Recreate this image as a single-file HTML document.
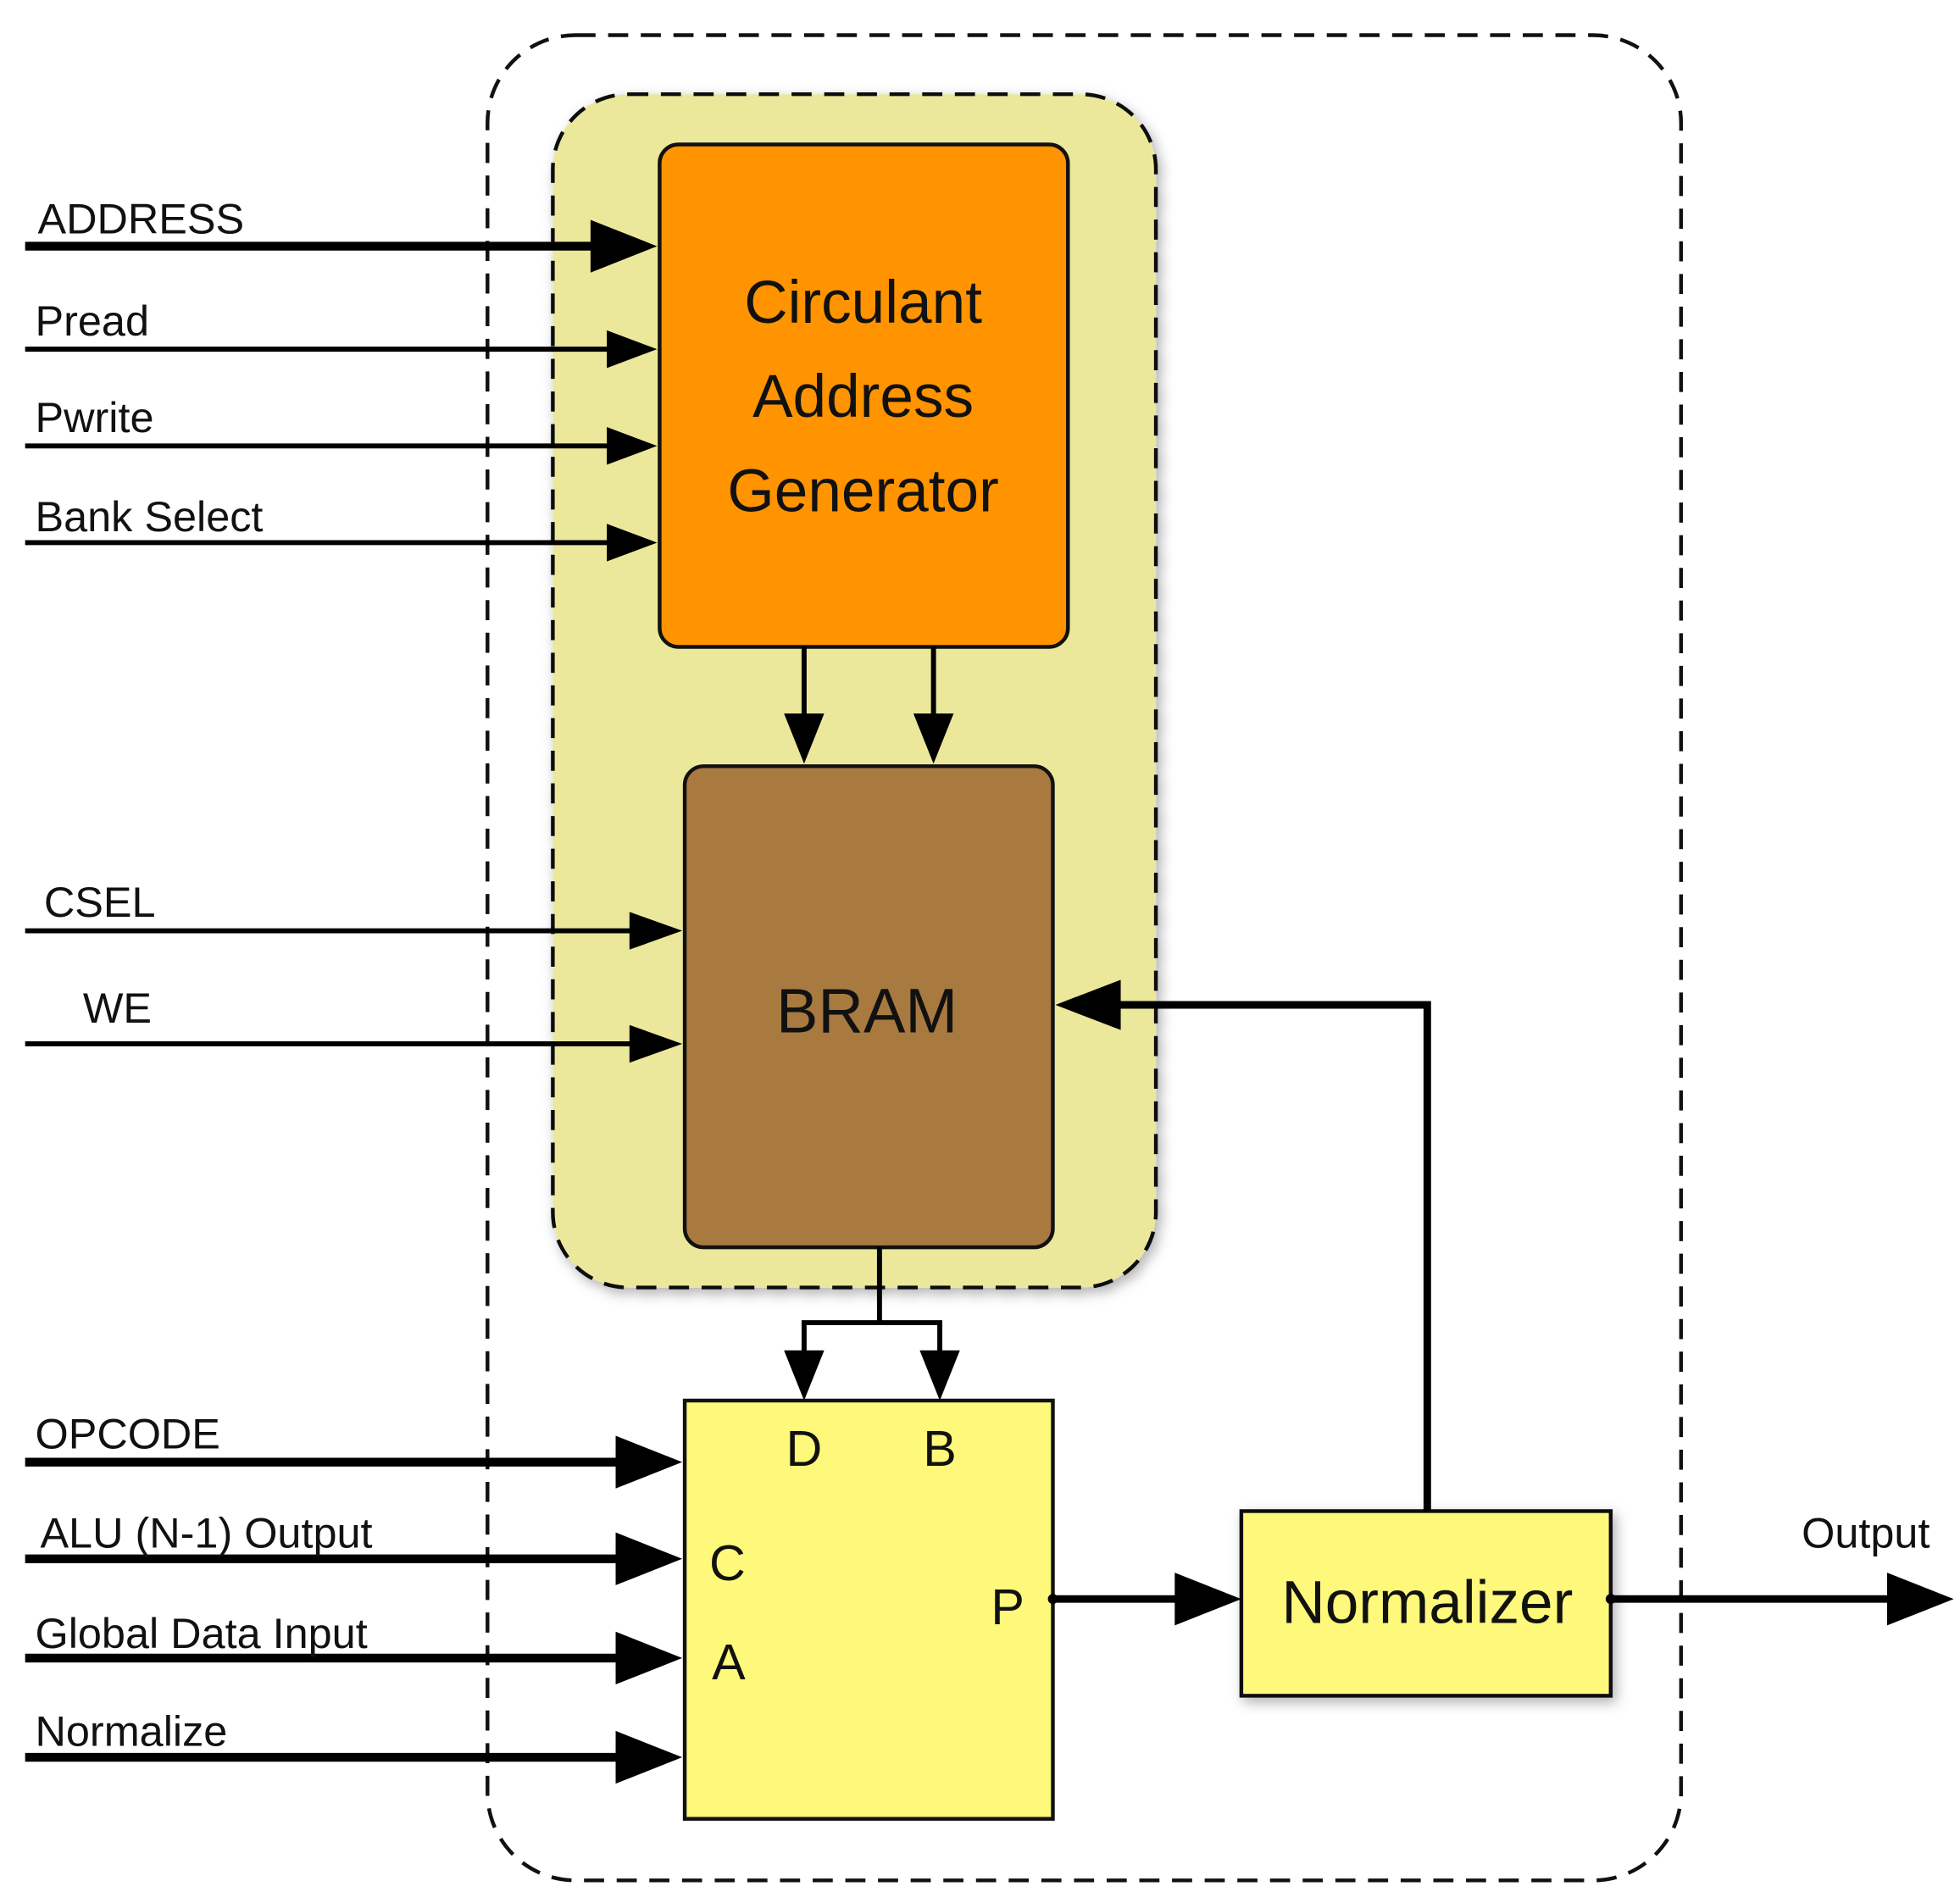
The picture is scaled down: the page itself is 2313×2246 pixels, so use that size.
<!DOCTYPE html>
<html><head><meta charset="utf-8"><style>
html,body{margin:0;padding:0;background:#fff;}
svg{display:block;}
text{font-family:"Liberation Sans",Arial,sans-serif;fill:#111;}
</style></head><body>
<svg width="2313" height="2246" viewBox="0 0 1560 1515" preserveAspectRatio="none" xmlns="http://www.w3.org/2000/svg">
<defs>
<filter id="sh" x="-10%" y="-10%" width="120%" height="120%"><feDropShadow dx="3" dy="4" stdDeviation="5" flood-color="#000" flood-opacity="0.3"/></filter>
</defs>
<rect x="388" y="28" width="950" height="1469" rx="70" fill="none" stroke="#111" stroke-width="3" stroke-dasharray="16,10"/>
<rect x="440" y="75" width="480" height="950" rx="60" fill="#ebe89c" stroke="#111" stroke-width="3" stroke-dasharray="16,10" filter="url(#sh)"/>
<rect x="525" y="115" width="325" height="400" rx="15" fill="#ff9300" stroke="#111" stroke-width="3"/>
<text x="687" y="257" font-size="48" text-anchor="middle">Circulant</text>
<text x="687" y="332" font-size="48" text-anchor="middle">Address</text>
<text x="687" y="407" font-size="48" text-anchor="middle">Generator</text>
<rect x="545" y="610" width="293" height="383" rx="15" fill="#a87a40" stroke="#111" stroke-width="3"/>
<text x="690" y="822" font-size="50" text-anchor="middle">BRAM</text>
<rect x="545" y="1115" width="293" height="333" fill="#fef97a" stroke="#111" stroke-width="3"/>
<text x="640" y="1167" font-size="40" text-anchor="middle">D</text>
<text x="748" y="1167" font-size="40" text-anchor="middle">B</text>
<text x="579" y="1258" font-size="40" text-anchor="middle">C</text>
<text x="580" y="1337" font-size="40" text-anchor="middle">A</text>
<text x="802" y="1293" font-size="40" text-anchor="middle">P</text>
<rect x="988" y="1203" width="294" height="147" fill="#fef97a" stroke="#111" stroke-width="3" filter="url(#sh)"/>
<text x="1136" y="1292" font-size="48" text-anchor="middle">Normalizer</text>
<g stroke="#000" fill="none">
<path d="M640 515 V570" stroke-width="4"/>
<path d="M743 515 V570" stroke-width="4"/>
<path d="M700 993 V1053 M638 1053 H750" stroke-width="4"/>
<path d="M640 1053 V1077" stroke-width="4"/>
<path d="M748 1053 V1077" stroke-width="4"/>
<path d="M838 1273 H937" stroke-width="6"/>
<path d="M1282 1273 H1504" stroke-width="6"/>
<path d="M1136 1203 V800 H890" stroke-width="6"/>
<path d="M20 196 H472" stroke-width="7"/>
<path d="M20 278 H485" stroke-width="4"/>
<path d="M20 355 H485" stroke-width="4"/>
<path d="M20 432 H485" stroke-width="4"/>
<path d="M20 741 H503" stroke-width="4"/>
<path d="M20 831 H503" stroke-width="4"/>
<path d="M20 1164 H492" stroke-width="7"/>
<path d="M20 1241 H492" stroke-width="7"/>
<path d="M20 1320 H492" stroke-width="7"/>
<path d="M20 1399 H492" stroke-width="7"/>
</g>
<g fill="#000">
<polygon points="523,196 470,175 470,217"/>
<polygon points="523,278 483,263 483,293"/>
<polygon points="523,355 483,340 483,370"/>
<polygon points="523,432 483,417 483,447"/>
<polygon points="543,741 501,726 501,756"/>
<polygon points="543,831 501,816 501,846"/>
<polygon points="543,1164 490,1143 490,1185"/>
<polygon points="543,1241 490,1220 490,1262"/>
<polygon points="543,1320 490,1299 490,1341"/>
<polygon points="543,1399 490,1378 490,1420"/>
<polygon points="640,608 624,568 656,568"/>
<polygon points="743,608 727,568 759,568"/>
<polygon points="640,1115 624,1075 656,1075"/>
<polygon points="748,1115 732,1075 764,1075"/>
<polygon points="988,1273 935,1252 935,1294"/>
<polygon points="1555,1273 1502,1252 1502,1294"/>
<polygon points="840,800 892,780 892,820"/>
<circle cx="838" cy="1273" r="4"/>
<circle cx="1282" cy="1273" r="4"/>
</g>
<g font-size="34">
<text x="30" y="186">ADDRESS</text>
<text x="28" y="267">Pread</text>
<text x="28" y="344">Pwrite</text>
<text x="28" y="423">Bank Select</text>
<text x="35" y="730">CSEL</text>
<text x="66" y="814">WE</text>
<text x="28" y="1153">OPCODE</text>
<text x="32" y="1232">ALU (N-1) Output</text>
<text x="28" y="1312">Global Data Input</text>
<text x="28" y="1390">Normalize</text>
<text x="1434" y="1232">Output</text>
</g>
</svg>
</body></html>
